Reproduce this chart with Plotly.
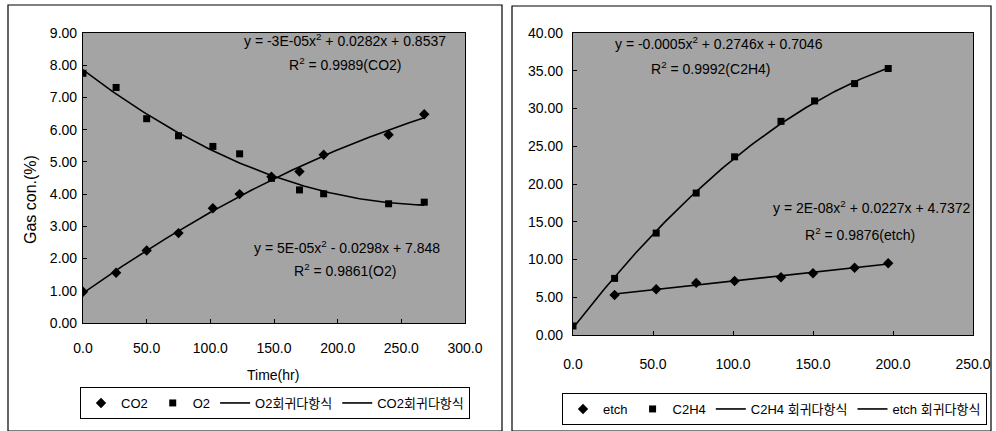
import numpy as np
import plotly.graph_objects as go

W, H = 996, 431

# ---- data: left panel (CO2 / O2) ----
time_left = [0, 26, 50, 75, 102, 123, 148, 170, 189, 240, 268]
co2 = [0.97, 1.56, 2.25, 2.79, 3.56, 4.00, 4.54, 4.70, 5.22, 5.84, 6.48]
o2 = [7.75, 7.31, 6.34, 5.81, 5.48, 5.25, 4.49, 4.13, 4.01, 3.70, 3.75]

# ---- data: right panel (etch / C2H4) ----
time_c2h4 = [0, 26, 52, 77, 101, 130, 151, 176, 197]
c2h4 = [1.2, 7.5, 13.5, 18.8, 23.6, 28.3, 31.0, 33.3, 35.3]
time_etch = [26, 52, 77, 101, 130, 150, 176, 197]
etch = [5.3, 6.05, 6.9, 7.15, 7.64, 8.17, 8.9, 9.5]

# tick labels
left_xticks = [0, 50, 100, 150, 200, 250, 300]
left_yticks = [0, 1, 2, 3, 4, 5, 6, 7, 8, 9]
right_xticks = [0, 50, 100, 150, 200, 250]
right_yticks = [0, 5, 10, 15, 20, 25, 30, 35, 40]

eq_co2 = "y = -3E-05x<sup>2</sup> + 0.0282x + 0.8537"
r2_co2 = "R<sup>2</sup> = 0.9989(CO2)"
eq_o2 = "y = 5E-05x<sup>2</sup> - 0.0298x + 7.848"
r2_o2 = "R<sup>2</sup> = 0.9861(O2)"
eq_c2h4 = "y = -0.0005x<sup>2</sup> + 0.2746x + 0.7046"
r2_c2h4 = "R<sup>2</sup> = 0.9992(C2H4)"
eq_etch = "y = 2E-08x<sup>2</sup> + 0.0227x + 4.7372"
r2_etch = "R<sup>2</sup> = 0.9876(etch)"

FONT = "Liberation Sans, Arial, Noto Sans CJK KR"
PLOT_BG = "#a4a4a4"


def px(x):
    return x / W


def py(y):
    return 1 - y / H


def trend(xs, ys):
    c = np.polyfit(xs, ys, 2)
    xx = np.linspace(min(xs), max(xs), 120)
    return xx, np.polyval(c, xx)


fig = go.Figure()

# left panel traces
fig.add_trace(go.Scatter(x=time_left, y=co2, mode="markers", name="CO2",
                         marker=dict(symbol="diamond", size=8, color="black"),
                         xaxis="x", yaxis="y", legend="legend"))
fig.add_trace(go.Scatter(x=time_left, y=o2, mode="markers", name="O2",
                         marker=dict(symbol="square", size=7, color="black"),
                         xaxis="x", yaxis="y", legend="legend"))
xx, yy = trend(time_left, o2)
fig.add_trace(go.Scatter(x=xx, y=yy, mode="lines", name="O2회귀다항식",
                         line=dict(color="black", width=1.6),
                         xaxis="x", yaxis="y", legend="legend"))
xx, yy = trend(time_left, co2)
fig.add_trace(go.Scatter(x=xx, y=yy, mode="lines", name="CO2회귀다항식",
                         line=dict(color="black", width=1.6),
                         xaxis="x", yaxis="y", legend="legend"))

# right panel traces
fig.add_trace(go.Scatter(x=time_etch, y=etch, mode="markers", name="etch",
                         marker=dict(symbol="diamond", size=8, color="black"),
                         xaxis="x2", yaxis="y2", legend="legend2"))
fig.add_trace(go.Scatter(x=time_c2h4, y=c2h4, mode="markers", name="C2H4",
                         marker=dict(symbol="square", size=7, color="black"),
                         xaxis="x2", yaxis="y2", legend="legend2"))
xx, yy = trend(time_c2h4, c2h4)
fig.add_trace(go.Scatter(x=xx, y=yy, mode="lines", name="C2H4 회귀다항식",
                         line=dict(color="black", width=1.6),
                         xaxis="x2", yaxis="y2", legend="legend2"))
xx, yy = trend(time_etch, etch)
fig.add_trace(go.Scatter(x=xx, y=yy, mode="lines", name="etch 회귀다항식",
                         line=dict(color="black", width=1.6),
                         xaxis="x2", yaxis="y2", legend="legend2"))

axis_common = dict(showgrid=False, zeroline=False, showline=True, linecolor="black",
                   linewidth=1.2, mirror=True, ticks="inside", ticklen=4,
                   tickcolor="black", automargin=False,
                   tickfont=dict(family=FONT, size=14, color="black"))

fig.update_layout(
    width=W, height=H,
    margin=dict(l=0, r=0, t=0, b=0, autoexpand=False),
    paper_bgcolor="white",
    plot_bgcolor=PLOT_BG,
    font=dict(family=FONT, color="black"),
    xaxis=dict(domain=[px(83), px(465)], range=[0, 300], tickvals=left_xticks,
               tickformat=".1f", anchor="y", ticklabelstandoff=12, **axis_common),
    yaxis=dict(domain=[py(323), py(33)], range=[0, 9], tickvals=left_yticks,
               tickformat=".2f", anchor="x", ticklabelstandoff=2, **axis_common),
    xaxis2=dict(domain=[px(573), px(973)], range=[0, 250], tickvals=right_xticks,
                tickformat=".1f", anchor="y2", ticklabelstandoff=16, **axis_common),
    yaxis2=dict(domain=[py(335), py(33)], range=[0, 40], tickvals=right_yticks,
                tickformat=".2f", anchor="x2", ticklabelstandoff=6, **axis_common),
    legend=dict(orientation="h", x=px(80), y=py(387), xanchor="left", yanchor="top",
                bordercolor="black", borderwidth=1, bgcolor="white",
                font=dict(family=FONT, size=13), itemwidth=30,
                tracegroupgap=0, traceorder="normal"),
    legend2=dict(orientation="h", x=px(562), y=py(393), xanchor="left", yanchor="top",
                 bordercolor="black", borderwidth=1, bgcolor="white",
                 font=dict(family=FONT, size=13), itemwidth=30,
                 tracegroupgap=0, traceorder="normal"),
    showlegend=True,
)


def note(text, x, y, size=14, angle=0):
    return dict(text=text, x=px(x), y=py(y), xref="paper", yref="paper",
                xanchor="center", yanchor="middle", showarrow=False, textangle=angle,
                font=dict(family=FONT, size=size, color="black"))


annotations = [
    note(eq_co2, 345, 40),
    note(r2_co2, 345, 64),
    note(eq_o2, 347, 247),
    note(r2_o2, 345, 270),
    note(eq_c2h4, 719, 43),
    note(r2_c2h4, 710, 68),
    note(eq_etch, 872, 207),
    note(r2_etch, 860, 234),
    note("Time(hr)", 273, 375),
    note("Gas con.(%)", 30, 200, size=16, angle=-90),
]
fig.update_layout(annotations=annotations)

# panel frames
fig.add_shape(type="rect", xref="paper", yref="paper", x0=px(8), x1=px(502), y0=py(431), y1=py(5),
              line=dict(color="black", width=1.2), fillcolor="rgba(0,0,0,0)", layer="below")
fig.add_shape(type="rect", xref="paper", yref="paper", x0=px(512), x1=px(991), y0=py(431), y1=py(6),
              line=dict(color="black", width=1.2), fillcolor="rgba(0,0,0,0)", layer="below")

fig.write_html("out.html", config={"displayModeBar": False},
               post_script="document.body.style.margin='0';document.body.style.overflow='hidden';")
